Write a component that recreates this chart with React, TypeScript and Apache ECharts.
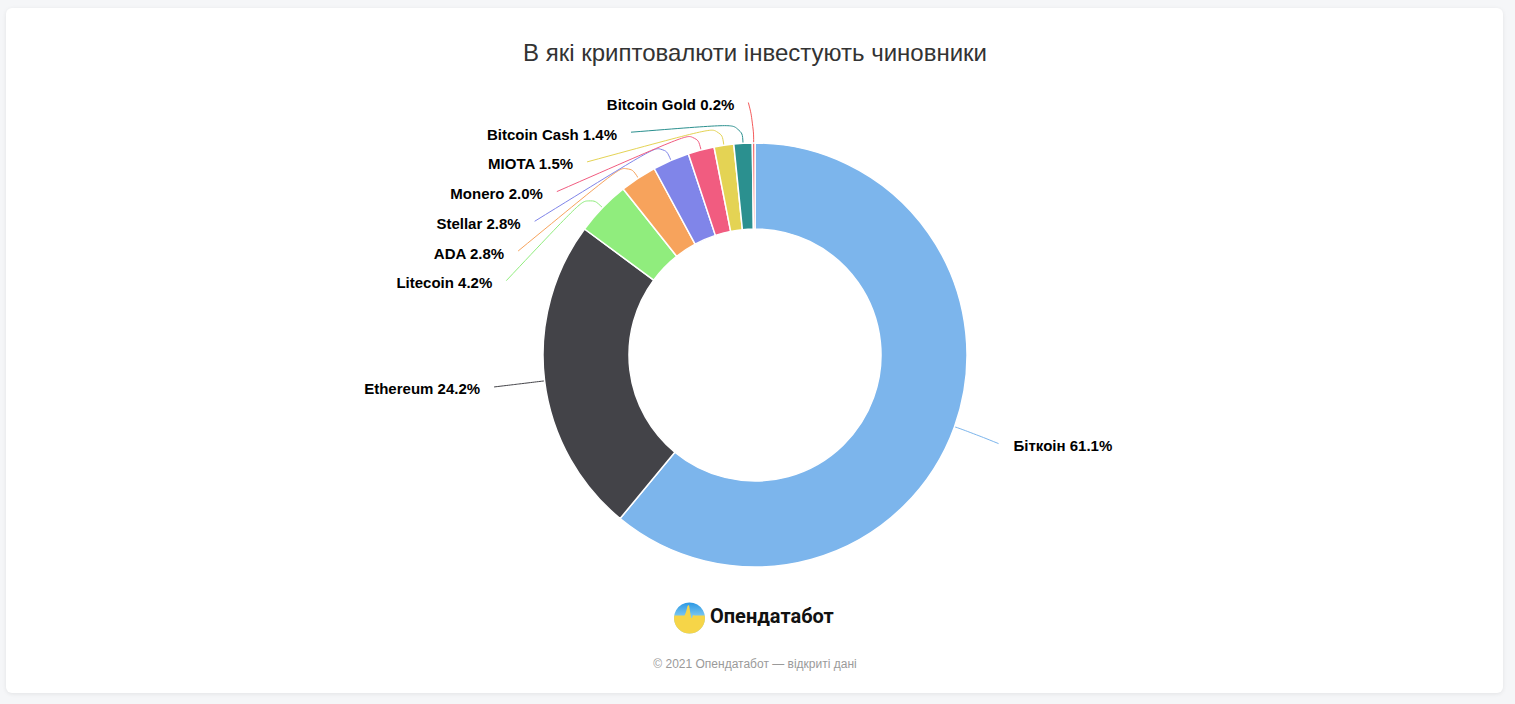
import React, { useEffect, useRef } from "react";
import * as echarts from "echarts";

const TITLE = "В які криптовалюти інвестують чиновники";
const CATEGORIES = [
  "Біткоін",
  "Ethereum",
  "Litecoin",
  "ADA",
  "Stellar",
  "Monero",
  "MIOTA",
  "Bitcoin Cash",
  "Bitcoin Gold",
];
const VALUES = [61.1, 24.2, 4.2, 2.8, 2.8, 2.0, 1.5, 1.4, 0.2];
const COLORS = [
  "#7cb5ec",
  "#434348",
  "#90ed7d",
  "#f7a35c",
  "#8085e9",
  "#f15c80",
  "#e4d354",
  "#2b908f",
  "#f45b5b",
];
const BRAND = "Опендатабот";
const FOOTER = "© 2021 Опендатабот — відкриті дані";

// geometry (page pixels)
const W = 1515;
const H = 704;
const CX = 755;
const CY = 355;
const R_IN = 126;
const R_OUT = 212;
const LABEL_DIST = 50;
const CONNECTOR_OFFSET = 10;
const LABEL_GAP_L = 14;
const LABEL_GAP_R = 15;
const LABEL_STEP = 29.7;
const LABEL_TOP = 102.5;
const Y_SHIFT = 8;
const EDGE_PAD = 5;
const TEXT_DY = 2;
const FONT = "'Liberation Sans', Arial, Helvetica, sans-serif";

const RL = R_OUT + LABEL_DIST;
const total = VALUES.reduce((a, b) => a + b, 0);
const mids: number[] = [];
{
  let acc = 0;
  VALUES.forEach((v) => {
    mids.push(((acc + v / 2) / total) * Math.PI * 2);
    acc += v;
  });
}
const naturalY = mids.map((t) => CY - RL * Math.cos(t));
const isLeft = mids.map((t) => t > Math.PI);
const endY: number[] = new Array(VALUES.length).fill(0);
[true, false].forEach((left) => {
  const idx = VALUES.map((_, i) => i)
    .filter((i) => isLeft[i] === left)
    .sort((a, b) => naturalY[a] - naturalY[b]);
  let prev = -Infinity;
  idx.forEach((i) => {
    const y = Math.max(naturalY[i], prev + LABEL_STEP, LABEL_TOP);
    endY[i] = y;
    prev = y;
  });
});
const endX = endY.map((y, i) => {
  const nearTop = y < CY - RL + 12 || y > CY + RL - 12;
  const yUse = nearTop ? naturalY[i] : y + (isLeft[i] ? -Y_SHIFT : Y_SHIFT);
  const dx = Math.sqrt(Math.max(0, RL * RL - (yUse - CY) * (yUse - CY)));
  const pad = nearTop ? EDGE_PAD : 0;
  return isLeft[i] ? CX - dx - pad : CX + dx + pad;
});

export default function App() {
  const ref = useRef<HTMLDivElement>(null);

  useEffect(() => {
    if (!ref.current) return;
    const chart = echarts.init(ref.current, null, { renderer: "svg", width: W, height: H });
    const LR = 15.5;
    const option: any = {
      animation: false,
      graphic: [
        {
          type: "text",
          x: CX,
          y: 52,
          style: {
            text: TITLE,
            fill: "#333333",
            font: `normal 24px ${FONT}`,
            align: "center",
            verticalAlign: "middle",
          },
        },
        {
          type: "group",
          x: 689.5,
          y: 618,
          children: [
            {
              type: "circle",
              shape: { cx: 0, cy: 0, r: LR },
              style: {
                fill: new echarts.graphic.LinearGradient(0, 0, 0, 1, [
                  { offset: 0, color: "#2b98e4" },
                  { offset: 0.5, color: "#86cdf3" },
                  { offset: 1, color: "#86cdf3" },
                ]),
              },
            },
            {
              type: "sector",
              shape: { cx: 0, cy: 0, r: LR, r0: 0, startAngle: 0, endAngle: Math.PI },
              style: { fill: "#f6d548" },
            },
            {
              type: "polygon",
              shape: {
                points: [
                  [-15.2, -2.5],
                  [-5, -2.5],
                  [-3.5, -6],
                  [-2, -12],
                  [-0.5, -13],
                  [0.8, -5],
                  [2, 1.5],
                  [3.5, -3],
                  [5, -2.5],
                  [15.2, -2.5],
                  [15.5, 0.5],
                  [-15.5, 0.5],
                ],
              },
              style: { fill: "#f6d548" },
            },
          ],
        },
        {
          type: "text",
          x: 710,
          y: 616,
          style: {
            text: BRAND,
            fill: "#111111",
            font: `bold 20px Roboto, ${FONT}`,
            align: "left",
            verticalAlign: "middle",
          },
        },
        {
          type: "text",
          x: CX,
          y: 664,
          style: {
            text: FOOTER,
            fill: "#9a9a9a",
            font: `normal 12px ${FONT}`,
            align: "center",
            verticalAlign: "middle",
          },
        },
      ],
      series: [
        {
          type: "pie",
          center: [CX, CY],
          radius: [R_IN, R_OUT],
          startAngle: 90,
          clockwise: true,
          avoidLabelOverlap: false,
          data: CATEGORIES.map((name, i) => ({
            name,
            value: VALUES[i],
            itemStyle: { color: COLORS[i] },
          })),
          itemStyle: { borderColor: "#ffffff", borderWidth: 1.5 },
          emphasis: { disabled: true },
          label: {
            show: true,
            position: "outside",
            formatter: (p: any) => `${p.name} ${Number(p.value).toFixed(1)}%`,
            color: "#000000",
            fontSize: 15,
            fontWeight: "bold",
            fontFamily: FONT,
          },
          labelLine: {
            show: true,
            smooth: 0.5,
            lineStyle: { width: 1 },
          },
          labelLayout: (p: any) => {
            const i = p.dataIndex;
            const th = mids[i];
            const tx = CX + R_OUT * Math.sin(th);
            const ty = CY - R_OUT * Math.cos(th);
            const br = R_OUT + 2 * CONNECTOR_OFFSET;
            const bx = CX + br * Math.sin(th);
            const by = CY - br * Math.cos(th);
            return {
              x: isLeft[i] ? endX[i] - LABEL_GAP_L : endX[i] + LABEL_GAP_R,
              y: endY[i] + TEXT_DY,
              align: isLeft[i] ? "right" : "left",
              verticalAlign: "middle",
              labelLinePoints: [
                [tx, ty],
                [bx, by],
                [endX[i], endY[i]],
              ],
            };
          },
        },
      ],
    };
    chart.setOption(option);
    return () => chart.dispose();
  }, []);

  return (
    <div
      style={{
        position: "fixed",
        left: 0,
        top: 0,
        width: W,
        height: H,
        background: "#f5f6f8",
        overflow: "hidden",
      }}
    >
      <div
        style={{
          position: "absolute",
          left: 6,
          top: 8,
          width: 1497,
          height: 685,
          background: "#ffffff",
          borderRadius: 6,
          boxShadow: "0 1px 4px rgba(0,0,0,0.08)",
        }}
      />
      <div ref={ref} style={{ position: "absolute", left: 0, top: 0, width: W, height: H }} />
    </div>
  );
}
